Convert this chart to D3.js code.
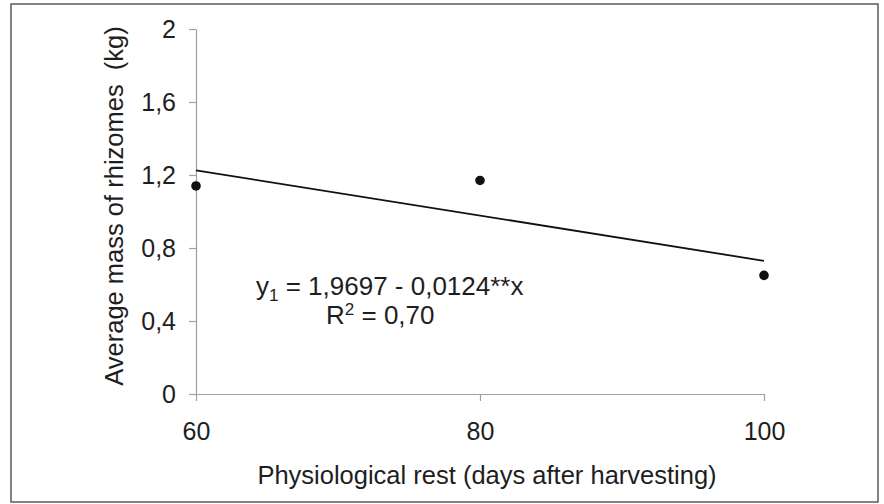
<!DOCTYPE html>
<html>
<head>
<meta charset="utf-8">
<script src="https://cdn.jsdelivr.net/npm/d3@7"></script>
<style>
  html, body { margin: 0; padding: 0; background: #fff; }
  svg { display: block; font-family: Arial, "Liberation Sans", sans-serif; }
</style>
</head>
<body>
<svg id="chart" width="884" height="504"></svg>
<script>
// Data
const restDays = [60, 80, 100];
const rhizomeMass = [1.14, 1.17, 0.65];
const xTicks = [60, 80, 100];
const yTicks = [0, 0.4, 0.8, 1.2, 1.6, 2];
const fitIntercept = 1.9697;
const fitSlope = -0.0124;
const xTitle = "Physiological rest (days after harvesting)";
const yTitle = "Average mass of rhizomes  (kg)";

const svg = d3.select("#chart");

// Outer frame
svg.append("rect")
  .attr("x", 11).attr("y", 4).attr("width", 867).attr("height", 498)
  .attr("fill", "#fff").attr("stroke", "#5a5a5a").attr("stroke-width", 1.5);

const x = d3.scaleLinear().domain([60, 100]).range([196, 764]);
const y = d3.scaleLinear().domain([0, 2]).range([394, 29]);

const fmt = d => d3.format("")(d).replace(".", ",");

// Y axis
const yAxis = svg.append("g")
  .attr("transform", `translate(${x(60)},0)`)
  .call(d3.axisLeft(y).tickValues(yTicks).tickFormat(fmt).tickSize(7).tickPadding(13).tickSizeOuter(0));
// X axis
const xAxis = svg.append("g")
  .attr("transform", `translate(0,${y(0)})`)
  .call(d3.axisBottom(x).tickValues(xTicks).tickFormat(d3.format("d")).tickSize(7).tickPadding(21).tickSizeOuter(0));

[yAxis, xAxis].forEach(g => {
  g.select(".domain").attr("stroke", "#a0a0a0").attr("stroke-width", 1.2);
  g.selectAll(".tick line").attr("stroke", "#a0a0a0").attr("stroke-width", 1.2);
  g.selectAll(".tick text").attr("fill", "#1e1e1e").style("font-size", "25px")
    .style("font-family", "Arial, 'Liberation Sans', sans-serif");
});

// Trend line
const fit = v => fitIntercept + fitSlope * v;
svg.append("line")
  .attr("x1", x(60)).attr("y1", y(fit(60)))
  .attr("x2", x(100)).attr("y2", y(fit(100)))
  .attr("stroke", "#111").attr("stroke-width", 1.8);

// Points
svg.selectAll("circle.pt")
  .data(restDays.map((d, i) => ({ d, v: rhizomeMass[i] })))
  .enter().append("circle")
  .attr("class", "pt")
  .attr("cx", p => x(p.d)).attr("cy", p => y(p.v))
  .attr("r", 4.8).attr("fill", "#111");

// Equation
const eq = svg.append("text")
  .attr("x", 256).attr("y", 295)
  .attr("fill", "#1e1e1e").style("font-size", "26px");
eq.append("tspan").text("y");
eq.append("tspan").attr("dy", 6).style("font-size", "17px").text("1");
eq.append("tspan").attr("dy", -6).text(" = 1,9697 - 0,0124**x");

const r2 = svg.append("text")
  .attr("x", 326).attr("y", 324)
  .attr("fill", "#1e1e1e").style("font-size", "26px");
r2.append("tspan").text("R");
r2.append("tspan").attr("dy", -9).style("font-size", "17px").text("2");
r2.append("tspan").attr("dy", 9).text(" = 0,70");

// Axis titles
svg.append("text")
  .attr("x", (257 + 717) / 2).attr("y", 484)
  .attr("text-anchor", "middle")
  .attr("fill", "#1e1e1e").style("font-size", "25.5px")
  .text(xTitle);

svg.append("text")
  .attr("transform", `translate(123,206) rotate(-90)`)
  .attr("text-anchor", "middle")
  .attr("fill", "#1e1e1e").style("font-size", "25.5px")
  .style("white-space", "pre")
  .text(yTitle);
</script>
</body>
</html>
